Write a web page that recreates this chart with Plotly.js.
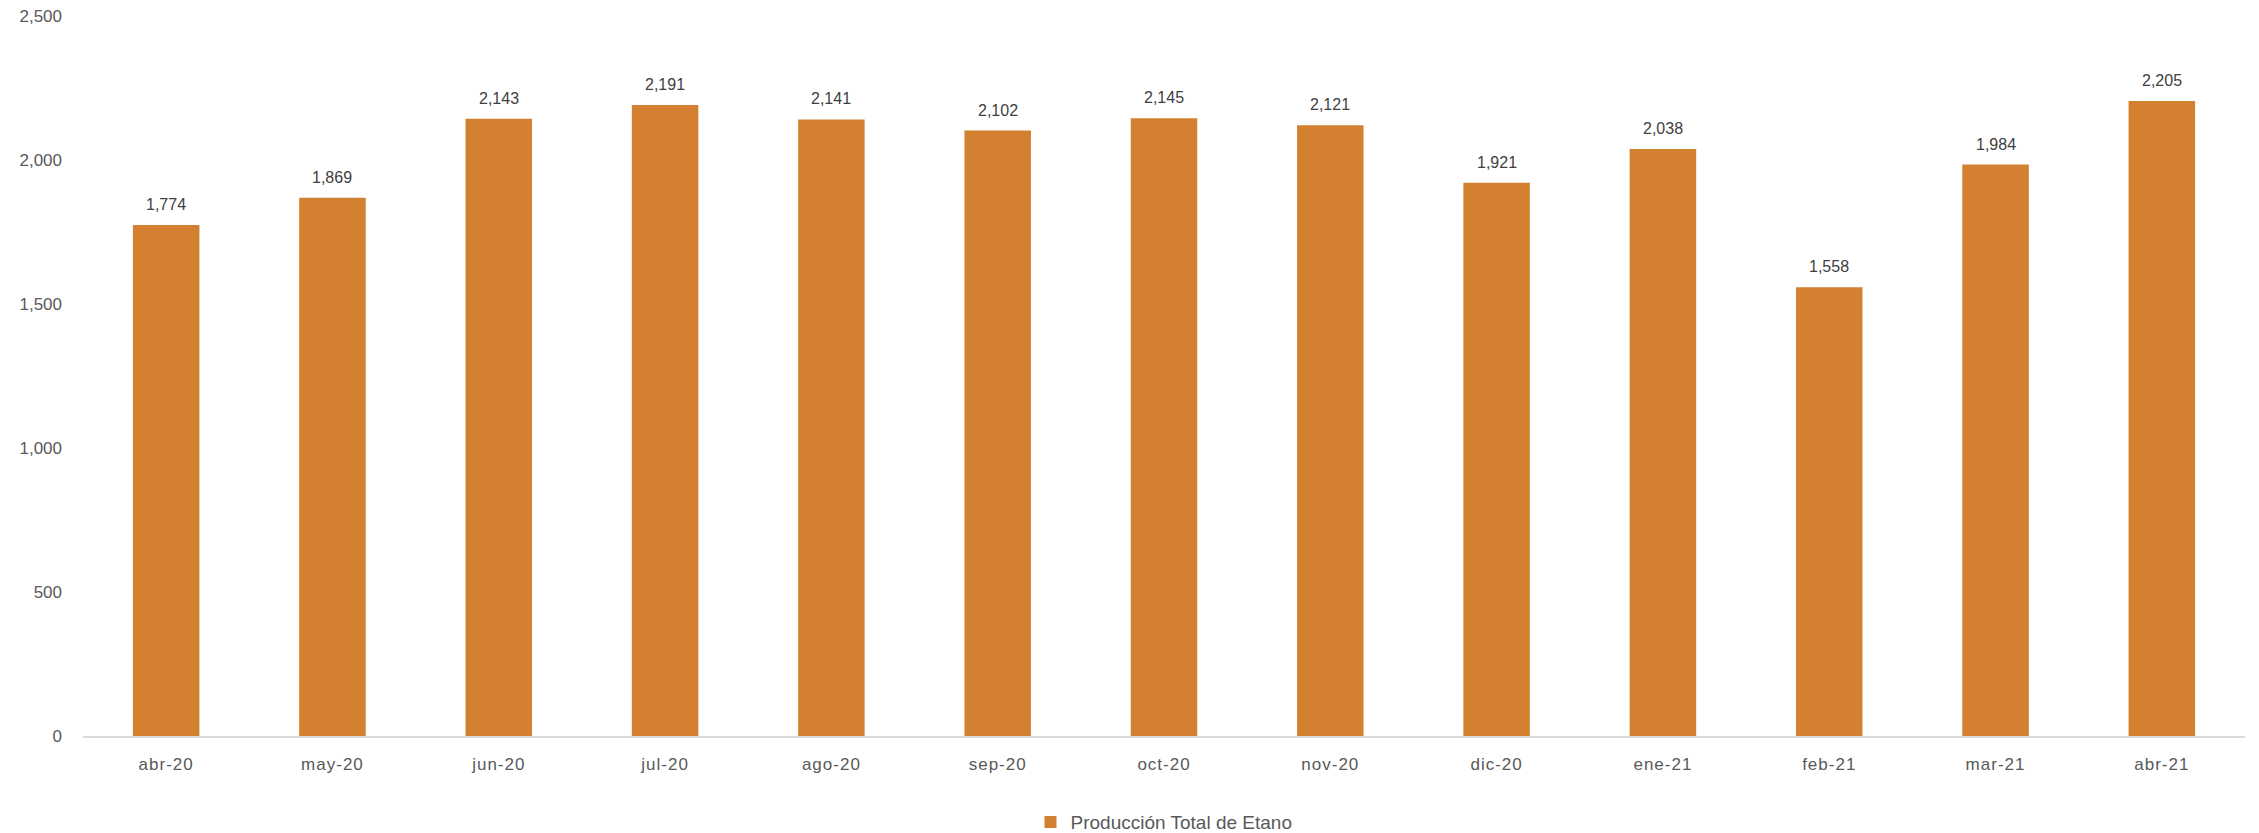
<!DOCTYPE html>
<html>
<head>
<meta charset="utf-8">
<script src="https://cdn.plot.ly/plotly-3.0.1.min.js"></script>
<style>
html,body{margin:0;padding:0;background:#fff;}
#chart{width:2259px;height:833px;}
#chart .xtick text {letter-spacing: 1px;}
</style>
</head>
<body>
<div id="chart"></div>
<script>
const categories = ["abr-20","may-20","jun-20","jul-20","ago-20","sep-20","oct-20","nov-20","dic-20","ene-21","feb-21","mar-21","abr-21"];
const values = [1774,1869,2143,2191,2141,2102,2145,2121,1921,2038,1558,1984,2205];
const seriesName = "Producción Total de Etano";
const yTicks = [0,500,1000,1500,2000,2500];

const fmt = v => v.toLocaleString("en-US");
const FONT = "Liberation Sans, Arial, sans-serif";

const trace = {
  type: "bar",
  x: categories,
  y: values,
  name: seriesName,
  marker: {color: "#D38131"},
  hoverinfo: "none"
};

const labels = categories.map((c, i) => ({
  x: c, y: values[i], xref: "x", yref: "y",
  text: fmt(values[i]), showarrow: false,
  yanchor: "bottom", yshift: 10,
  font: {size: 16, color: "#404040", family: FONT}
}));

const layout = {
  width: 2259, height: 833,
  margin: {l: 83, r: 14, t: 16, b: 97},
  paper_bgcolor: "#ffffff",
  plot_bgcolor: "rgba(0,0,0,0)",
  bargap: 0.6,
  font: {family: FONT, size: 16, color: "#595959"},
  showlegend: true,
  legend: {orientation: "h", x: 0.5, xanchor: "center", xref: "paper",
           y: 0.013, yanchor: "middle", yref: "container",
           font: {size: 19, color: "#595959"}},
  annotations: labels,
  xaxis: {type: "category", showgrid: false, showline: true, linecolor: "#d9d9d9", linewidth: 2,
          ticks: "", ticklabelstandoff: 12, tickfont: {size: 17, color: "#595959"}, zeroline: false, automargin: false},
  yaxis: {range: [0, 2500], tickvals: yTicks, ticktext: yTicks.map(fmt),
          showgrid: false, zeroline: false, showline: false, ticks: "", ticklabelstandoff: 20,
          tickfont: {size: 17, color: "#595959"}, automargin: false}
};

Plotly.newPlot("chart", [trace], layout, {displayModeBar: false, staticPlot: true});
</script>
</body>
</html>
